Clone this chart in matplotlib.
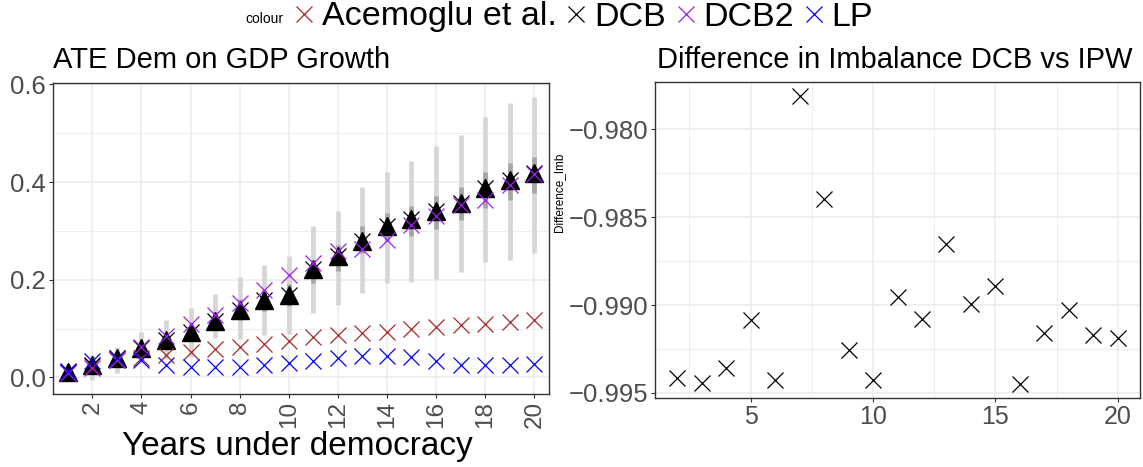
import matplotlib
matplotlib.use("Agg")
import matplotlib.pyplot as plt
from matplotlib.lines import Line2D
import numpy as np

plt.rcParams['font.family'] = ['Liberation Sans', 'DejaVu Sans']

# ---- data ----
years = list(range(1, 21))
acemoglu = [0.012, 0.023, 0.035, 0.040, 0.046, 0.053, 0.058, 0.062, 0.068, 0.074,
            0.082, 0.086, 0.090, 0.094, 0.100, 0.104, 0.107, 0.110, 0.114, 0.118]
dcb = [0.012, 0.026, 0.040, 0.060, 0.077, 0.094, 0.115, 0.139, 0.159, 0.169,
       0.221, 0.248, 0.280, 0.310, 0.324, 0.340, 0.358, 0.388, 0.405, 0.418]
dcb2 = [0.008, 0.019, 0.036, 0.063, 0.084, 0.109, 0.128, 0.152, 0.180, 0.210,
        0.235, 0.259, 0.263, 0.282, 0.313, 0.330, 0.354, 0.363, 0.395, 0.417]
lp = [0.013, 0.033, 0.040, 0.035, 0.026, 0.022, 0.022, 0.022, 0.025, 0.029,
      0.034, 0.039, 0.044, 0.043, 0.041, 0.034, 0.025, 0.025, 0.025, 0.027]
# outer (light) and inner (dark) intervals around DCB
ci_low = [0.000, -0.005, 0.010, 0.029, 0.038, 0.042, 0.080, 0.078, 0.087, 0.089,
          0.131, 0.148, 0.173, 0.193, 0.195, 0.201, 0.216, 0.236, 0.241, 0.254]
ci_high = [0.028, 0.046, 0.062, 0.092, 0.117, 0.143, 0.171, 0.205, 0.231, 0.248,
           0.310, 0.341, 0.389, 0.420, 0.444, 0.474, 0.497, 0.533, 0.561, 0.575]
iq_low = [0.005, 0.015, 0.030, 0.047, 0.062, 0.080, 0.097, 0.117, 0.135, 0.146,
          0.194, 0.218, 0.255, 0.280, 0.289, 0.303, 0.322, 0.347, 0.364, 0.378]
iq_high = [0.020, 0.036, 0.050, 0.070, 0.090, 0.110, 0.133, 0.160, 0.180, 0.192,
           0.231, 0.272, 0.311, 0.337, 0.352, 0.372, 0.390, 0.420, 0.439, 0.451]

imb_years = list(range(2, 21))
imb_diff = [-0.99415, -0.99443, -0.99358, -0.99088, -0.99428, -0.97814, -0.98395,
            -0.99253, -0.99428, -0.98955, -0.99082, -0.98655, -0.98993, -0.98892,
            -0.99447, -0.99162, -0.99029, -0.99172, -0.99187]

series = [('Acemoglu et al.', acemoglu, '#A52A2A'),
          ('DCB', dcb, 'black'),
          ('DCB2', dcb2, '#A020F0'),
          ('LP', lp, '#0000FF')]

W, H = 1143, 467
fig = plt.figure(figsize=(W / 100, H / 100), dpi=100)


def px_axes(l, t, r, b):
    return fig.add_axes([l / W, 1 - b / H, (r - l) / W, (b - t) / H])


def style(ax):
    ax.set_facecolor('white')
    for s in ax.spines.values():
        s.set_color('#333333')
        s.set_linewidth(1.0)
    ax.tick_params(which='major', length=3, width=0.8, color='#333333',
                   labelcolor='#4D4D4D', pad=2)
    ax.tick_params(which='minor', length=0)
    ax.grid(which='major', color='#EBEBEB', lw=1.1, zorder=0)
    ax.grid(which='minor', color='#EBEBEB', lw=0.6, zorder=0)
    ax.set_axisbelow(True)


def expand(lo, hi, f=0.05):
    d = (hi - lo) * f
    return lo - d, hi + d


# ---- left panel ----
ax1 = px_axes(53, 82.5, 549, 394)
style(ax1)
ax1.vlines(years, ci_low, ci_high, colors='#D6D6D6', lw=3.4, zorder=2)
ax1.vlines(years, iq_low, iq_high, colors='#A6A6A6', lw=3.4, zorder=2)
ax1.plot(years, dcb, ls='none', marker='^', ms=12.5, color='black', zorder=3)
for name, vals, col in series:
    ax1.plot(years, vals, ls='none', marker='x', ms=12, mew=0.9, color=col, zorder=4)
ax1.set_xlim(0.4, 20.6)
ax1.set_ylim(*expand(min(ci_low), max(ci_high)))
ax1.set_xticks(range(2, 21, 2))
ax1.set_xticklabels([str(v) for v in range(2, 21, 2)], rotation=90, va='top',
                    fontsize=17.5)
ax1.set_yticks([0.0, 0.2, 0.4, 0.6])
ax1.set_yticklabels(['0.0', '0.2', '0.4', '0.6'], fontsize=18.5)
ax1.set_yticks([0.1, 0.3, 0.5], minor=True)

# ---- right panel ----
ax2 = px_axes(655, 82, 1140, 398)
style(ax2)
ax2.plot(imb_years, imb_diff, ls='none', marker='x', ms=11, mew=0.9,
         color='black', zorder=3)
ax2.set_xlim(*expand(min(imb_years), max(imb_years)))
ax2.set_ylim(*expand(min(imb_diff), max(imb_diff)))
ax2.set_xticks([5, 10, 15, 20])
ax2.set_xticks([2.5, 7.5, 12.5, 17.5], minor=True)
ax2.set_xticklabels(['5', '10', '15', '20'], fontsize=18)
yt = [-0.995, -0.990, -0.985, -0.980]
ax2.set_yticks(yt)
ax2.set_yticklabels(['\u2212%.3f' % abs(v) for v in yt], fontsize=18.5)
ax2.set_yticks([-0.9925, -0.9875, -0.9825], minor=True)

# ---- titles and labels ----
fig.text(53 / W, 1 - 68 / H, 'ATE Dem on GDP Growth', fontsize=21,
         va='baseline', ha='left')
fig.text(657 / W, 1 - 68 / H, 'Difference in Imbalance DCB vs IPW', fontsize=21,
         va='baseline', ha='left')
fig.text(297 / W, 1 - 446 / H, 'Years under democracy', fontsize=24,
         ha='center', va='center')
fig.text(559 / W, 1 - 192 / H, 'Difference_Imb', fontsize=8.5, rotation=90,
         ha='center', va='center')

# ---- legend ----
handles = [Line2D([], [], ls='none', marker='x', ms=12, mew=0.9, color=c)
           for _, _, c in series]
labels = [n for n, _, _ in series]
fig.legend(handles, labels, loc='center', bbox_to_anchor=(583 / W, 1 - 17 / H),
           ncol=4, frameon=False, fontsize=24.5, handlelength=0.65,
           handletextpad=0.2, columnspacing=0.25, borderpad=0, borderaxespad=0)
fig.text(264 / W, 1 - 19 / H, 'colour', fontsize=10, ha='center', va='center')

fig.savefig('out.png', dpi=100)
